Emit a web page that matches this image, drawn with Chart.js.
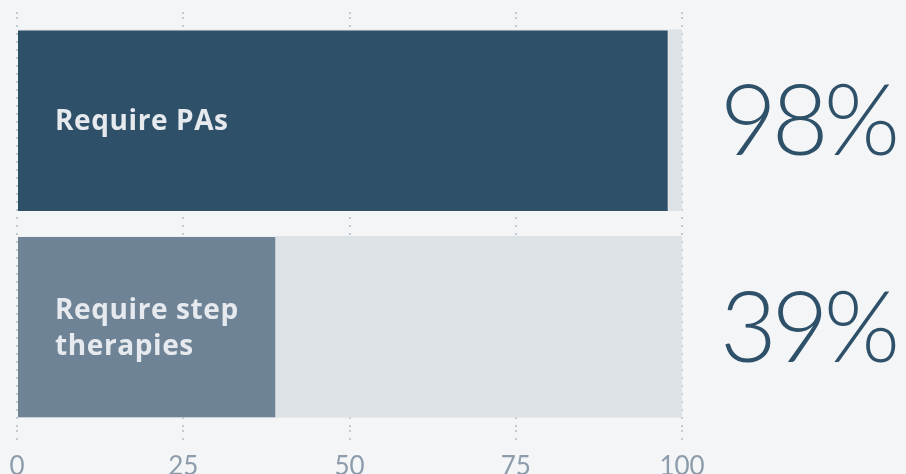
<!DOCTYPE html>
<html>
<head>
<meta charset="utf-8">
<script src="https://cdn.jsdelivr.net/npm/chart.js@4.4.1/dist/chart.umd.min.js"></script>
<style>
  html, body { margin: 0; padding: 0; background: #f3f5f7; }
  #wrap { width: 906px; height: 474px; }
</style>
</head>
<body>
<div id="wrap"><canvas id="chart"></canvas></div>
<script>
// Data
const categories = ['Require PAs', 'Require step therapies'];
const labelLines = [['Require PAs'], ['Require step', 'therapies']];
const values = [98, 39];
const trackValues = [100, 100];
const tickValues = [0, 25, 50, 75, 100];

const barColors = ['#2e5169', '#6e8496'];
const trackColor = '#dde2e6';
const gridColor = '#c3cad1';

// labels inside bars + big percentages on the right
const textPlugin = {
  id: 'barText',
  afterDatasetsDraw(chart) {
    const {ctx, scales: {x, y}} = chart;
    ctx.save();
    categories.forEach((c, i) => {
      const yc = y.getPixelForValue(i);
      ctx.fillStyle = '#e6eaee';
      ctx.font = '700 28px "Open Sans"';
      ctx.letterSpacing = '0.6px';
      ctx.textAlign = 'left';
      ctx.textBaseline = 'alphabetic';
      const lines = labelLines[i];
      const lh = 36;
      lines.forEach((ln, k) => {
        ctx.fillText(ln, x.left + 38, yc + 10 + (k - (lines.length - 1) / 2) * lh);
      });
      ctx.fillStyle = '#2e5169';
      ctx.font = '300 98px Lato';
      ctx.letterSpacing = '-5px';
      ctx.fillText(values[i] + '%', x.right + 38, yc + 35);
      ctx.letterSpacing = '0px';
    });
    ctx.restore();
  }
};

const ctx = document.getElementById('chart').getContext('2d');
const chart = new Chart(ctx, {
  type: 'bar',
  data: {
    labels: categories,
    datasets: [
      {
        data: values,
        backgroundColor: barColors,
        borderColor: '#eef1f3',
        borderWidth: {right: 1, top: 1},
        borderSkipped: 'left',
        barPercentage: 0.88,
        categoryPercentage: 1,
        grouped: false,
        order: 1
      },
      {
        data: trackValues,
        backgroundColor: trackColor,
        barPercentage: 0.88,
        categoryPercentage: 1,
        grouped: false,
        order: 2
      }
    ]
  },
  options: {
    indexAxis: 'y',
    responsive: true,
    maintainAspectRatio: false,
    animation: false,
    layout: { padding: { left: 17, right: 224, top: 12, bottom: 0 } },
    plugins: { legend: { display: false }, tooltip: { enabled: false } },
    scales: {
      x: {
        min: 0,
        max: 100,
        afterBuildTicks: s => { s.ticks = tickValues.map(v => ({value: v})); },
        grid: {
          color: gridColor,
          lineWidth: 2,
          tickLength: 13,
          tickBorderDash: [2, 6],
          drawOnChartArea: true
        },
        border: { display: false, dash: [2, 6] },
        ticks: {
          color: '#8d9cab',
          font: { family: 'Lato', size: 26 },
          padding: 8,
          maxRotation: 0
        },
        afterFit: s => { s.height = 44; }
      },
      x2: {
        position: 'top',
        min: 0,
        max: 100,
        afterBuildTicks: s => { s.ticks = tickValues.map(v => ({value: v})); },
        grid: { color: gridColor, lineWidth: 2, tickLength: 5, tickBorderDash: [2, 6], drawOnChartArea: false },
        border: { display: false, dash: [2, 6] },
        ticks: { display: false },
        afterFit: s => { s.height = 5; }
      },
      y: {
        display: false
      }
    }
  },
  plugins: [textPlugin]
});
</script>
</body>
</html>
